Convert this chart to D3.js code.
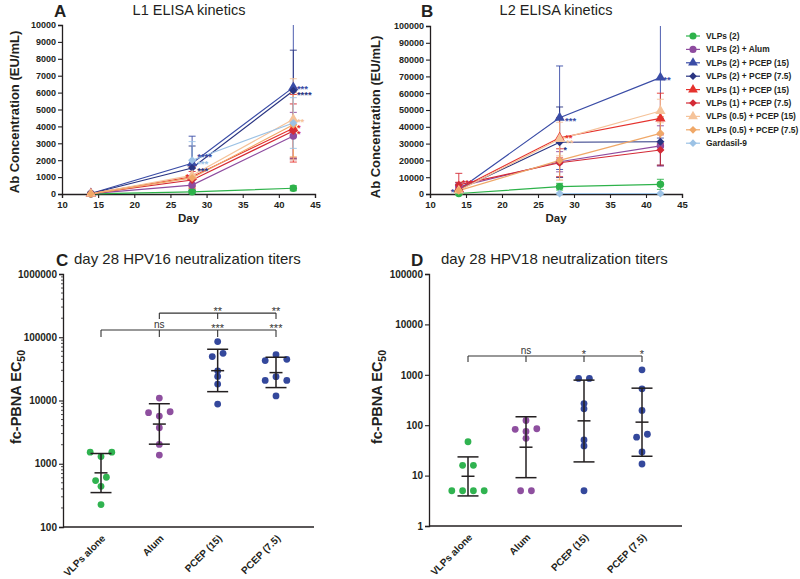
<!DOCTYPE html>
<html><head><meta charset="utf-8">
<script src="https://cdn.jsdelivr.net/npm/d3@7"></script>
<style>body{margin:0;background:#fff}svg{display:block}</style>
</head><body>
<svg id="chart" width="800" height="579"></svg>
<script>
// ---------------- DATA ----------------
const days = [14, 28, 42];
const seriesNames = ["VLPs (2)", "VLPs (2) + Alum", "VLPs (2) + PCEP (15)", "VLPs (2) + PCEP (7.5)",
  "VLPs (1) + PCEP (15)", "VLPs (1) + PCEP (7.5)", "VLPs (0.5) + PCEP (15)", "VLPs (0.5) + PCEP (7.5)", "Gardasil-9"];
const seriesColors = ["#2db24a", "#8e4b9f", "#3a4ca6", "#2a3582", "#e5322d", "#d42a36", "#f5c39a", "#f0a868", "#9cc2e5"];
const seriesShapes = ["circle", "circle", "triangle", "diamond", "triangle", "diamond", "triangle", "diamond", "diamond"];

// L1 ELISA (EU/mL) mean and SD at days 14, 28, 42
const l1Mean = [
  [10, 130, 340],
  [20, 530, 3430],
  [30, 1820, 6310],
  [30, 1540, 6110],
  [20, 1020, 3890],
  [20, 830, 3730],
  [10, 1100, 4420],
  [10, 950, 4100],
  [null, 2000, 4200]
];
const l1Sd = [
  [10, 60, 150],
  [15, 500, 1400],
  [20, 1600, 4200],
  [20, 1300, 2400],
  [15, 600, 2000],
  [15, 500, 1600],
  [10, 700, 2400],
  [10, 600, 1900],
  [null, 1100, 1500]
];
// L2 ELISA (EU/mL)
const l2Mean = [
  [300, 4350, 5760],
  [4300, 19200, 28600],
  [2500, 45400, 69300],
  [2500, 30800, 31100],
  [3000, 33500, 45000],
  [5400, 18600, 26200],
  [2000, 32700, 49400],
  [2000, 20000, 36100],
  [null, 300, 300]
];
const l2Sd = [
  [300, 2000, 3000],
  [2500, 6000, 12000],
  [4000, 30800, 36000],
  [3000, 21000, 14000],
  [4000, 12000, 15000],
  [6900, 8300, 9000],
  [3000, 10000, 7000],
  [3000, 11700, 10000],
  [null, 200, 200]
];
// significance marks: [day, value, text, series index]
const l1Stars = [
  [28.7, 2300, "****", 2], [28.7, 1900, "***", 8], [28.7, 1450, "***", 3], [27.6, 1100, "*", 4],
  [42.5, 6350, "***", 2], [42.5, 5950, "****", 3], [42.5, 4400, "**", 6], [42.5, 4050, "*", 4], [42.5, 3650, "*", 5]
];
const l2Stars = [
  [13.4, 2400, "*", 2], [14.4, 7800, "***", 5],
  [28.75, 44600, "***", 2], [28.75, 34500, "**", 4], [28.9, 31500, "**", 6], [28.5, 27500, "*", 3],
  [42.4, 69000, "**", 2]
];

const categories = ["VLPs alone", "Alum", "PCEP (15)", "PCEP (7.5)"];
const catColors = ["#30b350", "#8e4f9f", "#34489c", "#34489c"];
const hpv16Values = [
  [1524, 1524, 1300, 612, 542, 440, 226],
  [10940, 6640, 6410, 5680, 3710, 2020, 1370],
  [85500, 55800, 49400, 29500, 24000, 18200, 8790],
  [53000, 44800, 42800, 23800, 20800, 20800, 11800]
];
const hpv16Mean = [718, 4240, 29600, 27600];
const hpv16Low = [350, 2040, 13800, 16000];
const hpv16High = [1452, 8890, 64600, 48300];
const hpv16Brackets = [
  { from: 0, to: 3, level: 130000, drop: 101000, labels: [[1, "ns"], [2, "***"], [3, "***"]] },
  { from: 1, to: 3, level: 241000, drop: 194000, labels: [[2, "**"], [3, "**"]] }
];
const hpv18Values = [
  [47, 16, 16, 5, 5, 5, 5],
  [124, 85, 83, 75, 55, 5, 5],
  [846, 846, 269, 211, 51, 38.8, 5],
  [1257, 527, 196, 66.2, 57.8, 29.5, 17]
];
const hpv18Mean = [9.7, 36.6, 122, 115];
const hpv18Low = [3.95, 9.1, 18.7, 24.2];
const hpv18High = [23.5, 147, 784, 543];
const hpv18Brackets = [
  { from: 0, to: 3, level: 2360, drop: 1795, labels: [[1, "ns"], [2, "*"], [3, "*"]] }
];

// ---------------- DRAWING ----------------
const svg = d3.select("#chart");
const FONT = "'Liberation Sans', Arial, Helvetica, sans-serif";
const INK = "#231f20";
const defs = svg.append("defs");

function styleAxis(sel, fs) {
  sel.attr("font-family", null).attr("font-size", null);
  sel.select(".domain").attr("stroke", INK).attr("stroke-width", 1.3);
  sel.selectAll(".tick line").attr("stroke", INK).attr("stroke-width", 1.1);
  sel.selectAll(".tick text").attr("fill", INK).attr("font-size", fs)
    .attr("font-weight", "bold").attr("font-family", FONT);
}
function symbolPath(shape, size) {
  const t = shape === "circle" ? d3.symbolCircle : shape === "triangle" ? d3.symbolTriangle
    : (d3.symbolDiamond2 || d3.symbolDiamond);
  return d3.symbol(t, size)();
}
const symSize = { circle: 44, triangle: 46, diamond: 42 };

function text(x, y, str, o = {}) {
  return svg.append("text").attr("x", x).attr("y", y).text(str)
    .attr("font-family", FONT).attr("font-size", o.size || 12)
    .attr("font-weight", o.weight || "normal").attr("fill", o.fill || INK)
    .attr("text-anchor", o.anchor || "start");
}

function linePanel(o) {
  const x = d3.scaleLinear().domain([10, 45]).range([o.left, o.right]);
  const y = d3.scaleLinear().domain([0, o.max]).range([o.bottom, o.top]);
  const g = svg.append("g");
  const clipId = "clip" + o.letter;
  defs.append("clipPath").attr("id", clipId).append("rect")
    .attr("x", o.left - 10).attr("y", o.top).attr("width", o.right - o.left + 20)
    .attr("height", o.bottom - o.top + 10);

  const ya = g.append("g").attr("transform", `translate(${o.left},0)`)
    .call(d3.axisLeft(y).tickValues(d3.range(0, o.max + 1, o.step)).tickSize(4).tickPadding(2).tickFormat(d => String(d)));
  styleAxis(ya, 9);
  const xa = g.append("g").attr("transform", `translate(0,${o.bottom})`)
    .call(d3.axisBottom(x).tickValues(d3.range(10, 46, 5)).tickSize(4).tickPadding(3));
  styleAxis(xa, 9.5);

  const plot = g.append("g").attr("clip-path", `url(#${clipId})`);
  const all = [];
  o.means.forEach((row, si) => {
    const pts = days.map((d, i) => ({ d, m: row[i], s: o.sds[si][i], si })).filter(p => p.m != null);
    const c = seriesColors[si];
    plot.append("path").datum(pts)
      .attr("d", d3.line().x(p => x(p.d)).y(p => y(p.m)))
      .attr("fill", "none").attr("stroke", c).attr("stroke-width", 1.2);
    pts.forEach(p => {
      const xp = x(p.d), yl = y(Math.max(0, p.m - p.s)), yh = y(p.m + p.s);
      plot.append("line").attr("x1", xp).attr("x2", xp).attr("y1", yl).attr("y2", yh)
        .attr("stroke", c).attr("stroke-width", 0.9);
      [yl, yh].forEach(yy => plot.append("line").attr("x1", xp - 3.5).attr("x2", xp + 3.5)
        .attr("y1", yy).attr("y2", yy).attr("stroke", c).attr("stroke-width", 0.9));
      all.push(p);
    });
  });
  all.forEach(p => {
    const sh = seriesShapes[p.si];
    g.append("path").attr("d", symbolPath(sh, symSize[sh]))
      .attr("transform", `translate(${x(p.d)},${y(p.m)})`)
      .attr("fill", seriesColors[p.si]);
  });
  o.stars.forEach(([d, v, t, si]) => {
    const anchorEnd = d < 28 && t.length === 1 && (d < 14 || (d > 14.5 && d < 28));
    text(x(d), y(v) + 5, t, { size: 9.5, weight: "bold", fill: seriesColors[si], anchor: anchorEnd ? "end" : "start" });
  });

  // labels
  text(o.letterX, 17, o.letter, { size: 17, weight: "bold" });
  text(o.titleX, 15, o.title, { size: 14.5, anchor: "middle" });
  text((o.left + o.right) / 2, 222, "Day", { size: 11.5, weight: "bold", anchor: "middle" });
  text(0, 0, "Ab Concentration (EU/mL)", { size: 13, weight: "bold", anchor: "middle" })
    .attr("transform", `translate(${o.ylabX},${o.ylabY}) rotate(-90)`);
}

function layoutColumn(vals, y, gap, step) {
  const pts = vals.map(v => ({ v, py: y(v) })).sort((a, b) => a.py - b.py);
  const groups = []; let cur = [];
  pts.forEach(p => {
    if (cur.length && p.py - cur[cur.length - 1].py >= gap) { groups.push(cur); cur = []; }
    cur.push(p);
  });
  if (cur.length) groups.push(cur);
  groups.forEach(gr => {
    const n = gr.length;
    let order;
    if (n === 3) {
      const mean = d3.mean(gr, p => p.v);
      const center = gr.reduce((a, b) => Math.abs(b.v - mean) > Math.abs(a.v - mean) ? b : a);
      const rest = gr.filter(p => p !== center).sort((a, b) => a.v - b.v);
      order = [rest[0], center, rest[1]];
    } else order = gr.slice().sort((a, b) => a.v - b.v);
    order.forEach((p, i) => p.dx = (i - (n - 1) / 2) * step);
  });
  return pts;
}

function dotPanel(o) {
  const x = d3.scalePoint().domain(categories).range([o.c0, o.c1]);
  const y = d3.scaleLog().domain([o.min, o.max]).range([o.bottom, o.top]);
  const g = svg.append("g");
  const ticks = [];
  for (let v = o.min; v <= o.max; v *= 10) ticks.push(v);
  const ya = g.append("g").attr("transform", `translate(${o.left},0)`)
    .call(d3.axisLeft(y).tickValues(ticks).tickSize(4).tickPadding(2).tickFormat(d3.format("d")));
  styleAxis(ya, 10);
  if (o.minor) {
    const minor = [];
    ticks.slice(0, -1).forEach(t => { for (let k = 2; k < 10; k++) minor.push(t * k); });
    g.selectAll(null).data(minor).enter().append("line")
      .attr("x1", o.left - 2).attr("x2", o.left).attr("y1", d => y(d)).attr("y2", d => y(d))
      .attr("stroke", INK).attr("stroke-width", 0.8);
  }
  g.append("line").attr("x1", o.left).attr("x2", o.right).attr("y1", o.bottom).attr("y2", o.bottom)
    .attr("stroke", INK).attr("stroke-width", 1.3);
  categories.forEach(c => {
    text(0, 0, c, { size: 10, weight: "bold", anchor: "end" })
      .attr("transform", `translate(${x(c) + 5},${o.bottom + 12}) rotate(-45)`);
  });

  o.values.forEach((vals, ci) => {
    const cx = x(categories[ci]);
    layoutColumn(vals, y, 5, 10.8).forEach(p => {
      g.append("circle").attr("cx", cx + p.dx).attr("cy", p.py).attr("r", 3.4).attr("fill", catColors[ci]);
    });
  });
  o.values.forEach((vals, ci) => {
    const cx = x(categories[ci]);
    const yl = y(o.low[ci]), yh = y(o.high[ci]), ym = y(o.mean[ci]);
    const st = { stroke: INK, w: 1.5 };
    g.append("line").attr("x1", cx).attr("x2", cx).attr("y1", yl).attr("y2", yh).attr("stroke", st.stroke).attr("stroke-width", st.w);
    [[yl, 10.5], [yh, 10.5], [ym, 6.5]].forEach(([yy, hw]) =>
      g.append("line").attr("x1", cx - hw).attr("x2", cx + hw).attr("y1", yy).attr("y2", yy)
        .attr("stroke", st.stroke).attr("stroke-width", st.w));
  });
  o.brackets.forEach(b => {
    const yl = y(b.level), yd = y(b.drop);
    const x1 = x(categories[b.from]), x2 = x(categories[b.to]);
    g.append("line").attr("x1", x1).attr("x2", x2).attr("y1", yl).attr("y2", yl).attr("stroke", "#333").attr("stroke-width", 1.1);
    const drops = [b.from].concat(b.labels.map(l => l[0]));
    drops.forEach(ci => g.append("line").attr("x1", x(categories[ci])).attr("x2", x(categories[ci]))
      .attr("y1", yl).attr("y2", yd).attr("stroke", "#333").attr("stroke-width", 1.1));
    b.labels.forEach(([ci, t]) => {
      const isStar = t.indexOf("*") >= 0;
      text(x(categories[ci]), yl + (isStar ? 2 : -2), t, { size: isStar ? 11 : 10, anchor: "middle", fill: "#333" });
    });
  });

  text(o.letterX, 266, o.letter, { size: 17, weight: "bold" });
  text(o.titleX, 264, o.title, { size: 15 });
  const yl = text(0, 0, "fc-PBNA EC", { size: 14.5, weight: "bold", anchor: "middle" })
    .attr("transform", `translate(${o.ylabX},${o.ylabY}) rotate(-90)`);
  yl.append("tspan").attr("font-size", 10.5).attr("dy", 4).text("50");
}

linePanel({ letter: "A", left: 62, right: 315, top: 25, bottom: 194, max: 10000, step: 1000,
  means: l1Mean, sds: l1Sd, stars: l1Stars, letterX: 54, title: "L1 ELISA kinetics", titleX: 189,
  ylabX: 19, ylabY: 112 });
linePanel({ letter: "B", left: 430, right: 682, top: 26, bottom: 194, max: 100000, step: 10000,
  means: l2Mean, sds: l2Sd, stars: l2Stars, letterX: 421, title: "L2 ELISA kinetics", titleX: 556,
  ylabX: 380, ylabY: 117 });

// legend
seriesNames.forEach((n, i) => {
  const yy = 36 + i * 13.4, c = seriesColors[i], sh = seriesShapes[i];
  svg.append("line").attr("x1", 686).attr("x2", 700).attr("y1", yy).attr("y2", yy).attr("stroke", c).attr("stroke-width", 1.2);
  svg.append("path").attr("d", symbolPath(sh, symSize[sh] * 0.9)).attr("transform", `translate(693,${yy})`).attr("fill", c);
  text(706, yy + 3, n, { size: 8.4, weight: "bold" });
});

dotPanel({ letter: "C", left: 63, right: 314, top: 274, bottom: 527, min: 100, max: 1000000, minor: true,
  c0: 101, c1: 276, values: hpv16Values, mean: hpv16Mean, low: hpv16Low, high: hpv16High,
  brackets: hpv16Brackets, letterX: 56, title: "day 28 HPV16 neutralization titers", titleX: 74,
  ylabX: 21, ylabY: 397 });
dotPanel({ letter: "D", left: 429, right: 682, top: 274, bottom: 526, min: 1, max: 100000, minor: false,
  c0: 468, c1: 642, values: hpv18Values, mean: hpv18Mean, low: hpv18Low, high: hpv18High,
  brackets: hpv18Brackets, letterX: 411, title: "day 28 HPV18 neutralization titers", titleX: 441,
  ylabX: 382, ylabY: 397 });
</script>
</body></html>
